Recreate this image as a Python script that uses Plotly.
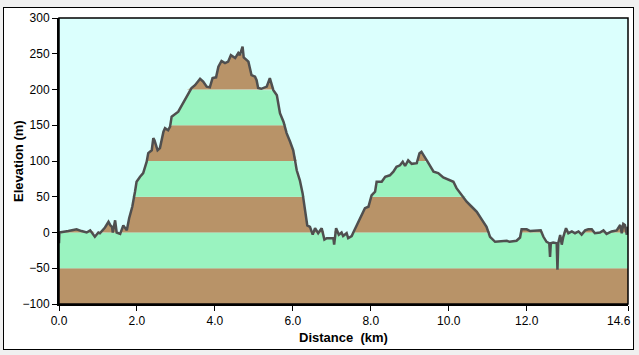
import plotly.graph_objects as go

# ---- data ----
dist_km = [
    0.00, 0.01, 0.24, 0.45, 0.58, 0.71, 0.80, 0.92, 1.01, 1.05,
    1.18, 1.27, 1.32, 1.36, 1.38, 1.44, 1.48, 1.57, 1.65, 1.74,
    1.80, 1.88, 1.95, 1.99, 2.08, 2.16, 2.25, 2.29, 2.38, 2.42,
    2.45, 2.53, 2.59, 2.63, 2.68, 2.72, 2.80, 2.85, 2.89, 3.06,
    3.15, 3.28, 3.40, 3.49, 3.62, 3.70, 3.79, 3.87, 3.94, 4.03,
    4.09, 4.17, 4.26, 4.34, 4.41, 4.52, 4.60, 4.64, 4.71, 4.74,
    4.82, 4.86, 4.94, 5.03, 5.07, 5.11, 5.19, 5.33, 5.41, 5.46,
    5.50, 5.59, 5.67, 5.76, 5.84, 5.93, 6.01, 6.10, 6.18, 6.25,
    6.31, 6.37, 6.44, 6.51, 6.57, 6.65, 6.74, 6.81, 6.87, 7.04,
    7.06, 7.11, 7.18, 7.25, 7.29, 7.38, 7.42, 7.51, 7.57, 7.64,
    7.72, 7.77, 7.85, 7.94, 7.98, 8.02, 8.11, 8.15, 8.28, 8.37,
    8.49, 8.58, 8.66, 8.75, 8.82, 8.88, 8.96, 9.05, 9.18, 9.25,
    9.30, 9.37, 9.48, 9.61, 9.73, 9.86, 9.99, 10.12, 10.20, 10.33,
    10.46, 10.59, 10.72, 10.85, 10.97, 11.06, 11.14, 11.19, 11.49, 11.56,
    11.74, 11.83, 11.87, 12.00, 12.09, 12.26, 12.36, 12.43, 12.51, 12.58,
    12.60, 12.62, 12.68, 12.77, 12.79, 12.81, 12.86, 12.90, 12.94, 13.01,
    13.07, 13.16, 13.24, 13.33, 13.41, 13.50, 13.58, 13.67, 13.75, 13.88,
    13.97, 14.05, 14.18, 14.31, 14.40, 14.44, 14.48, 14.52, 14.57, 14.60,
]
elev_m = [
    -15, 0, 2, 4.5, 2, 0, 3, -6, 0, -1,
    7, 15, 10, 8, 0, 17, 0, -2, 10, 3,
    20, 36, 57, 71, 78, 83, 99, 111, 115, 132,
    129, 115, 118, 129, 141, 146, 143, 148, 162, 169,
    178, 190, 202, 206, 215, 211, 204, 203, 216, 217,
    232, 240, 237, 239, 248, 244, 251, 248, 260, 245,
    241, 239, 220, 218, 213, 202, 201, 204, 216, 206,
    199, 192, 167, 155, 139, 127, 115, 87, 73, 55,
    31, 10, 8, -3, 6, -1, 6, -10, -8, -8,
    -17, 6, -3, 0, -5, -1, -8, -5, 2, 10,
    20, 25, 34, 36, 43, 52, 57, 71, 71, 78,
    80, 85, 92, 94, 99, 93, 101, 96, 97, 111,
    113, 106, 97, 85, 83, 77, 74, 71, 62, 52,
    43, 36, 29, 18, 8, -6, -10, -13, -11.5, -13,
    -11.5, -7, 4.5, 4.5, 2, 3, 3, -6, -13, -15,
    -34, -15, -14, -15, -52, -15, -3.5, -17, -6, 6,
    -1, 1.5, -1, 1.5, -3, 3, 4.5, 4.5, -1, 0,
    3, -2, 1.5, 3, 10.5, -1, 12, 10.5, -3, 8,
]

x_max = 14.6
x_tick_vals = [0, 2, 4, 6, 8, 10, 12, x_max]
x_tick_text = ["0.0", "2.0", "4.0", "6.0", "8.0", "10.0", "12.0", ""]
x_end_label = "14.6"
y_tick_vals = [-100, -50, 0, 50, 100, 150, 200, 250, 300]
band_edges = [-100, -50, 0, 50, 100, 150, 200, 250, 300]
x_title = "Distance&nbsp;&nbsp;(km)"
y_title = "Elevation (m)"

BROWN = "#B89368"
GREEN = "#9AF3C0"
BG = "#DBFFFD"
LINE = "#4F4F4F"

fig = go.Figure()

# banded fill under the profile
for i in range(len(band_edges) - 1):
    lo, hi = band_edges[i], band_edges[i + 1]
    color = BROWN if i % 2 == 0 else GREEN
    clipped = [min(max(v, lo), hi) for v in elev_m]
    fig.add_trace(go.Scatter(x=dist_km, y=[lo] * len(dist_km), mode="lines",
                             line=dict(width=0), hoverinfo="skip", showlegend=False))
    fig.add_trace(go.Scatter(x=dist_km, y=clipped, mode="lines", fill="tonexty",
                             fillcolor=color, line=dict(width=0),
                             hoverinfo="skip", showlegend=False))

# elevation line
fig.add_trace(go.Scatter(x=dist_km, y=elev_m, mode="lines",
                         line=dict(color=LINE, width=2.5), showlegend=False))

font_family = "Liberation Sans, Arial, sans-serif"

# figure div sits at page (4, 8); plot area at page x 59..628, y 18..304
W, H = 629, 341
L, T = 55, 10
PW, PH = 569, 286

fig.update_layout(
    width=W, height=H,
    margin=dict(l=L, r=W - L - PW, t=T, b=H - T - PH, autoexpand=False),
    paper_bgcolor="#FFFFFF",
    plot_bgcolor=BG,
    font=dict(family=font_family, size=12, color="#000000"),
    xaxis=dict(
        range=[0, x_max], tickvals=x_tick_vals, ticktext=x_tick_text,
        showgrid=False, zeroline=False, showline=True, linecolor="#000",
        linewidth=2, ticks="outside", ticklen=5, tickwidth=1, tickcolor="#000",
        automargin=False, ticklabeloverflow="allow",
    ),
    yaxis=dict(
        range=[-100, 300], tickvals=y_tick_vals,
        showgrid=False, zeroline=False, showline=True, linecolor="#000",
        linewidth=2, ticks="outside", ticklen=5, tickwidth=1, tickcolor="#000",
        automargin=False,
    ),
    shapes=[
        dict(type="rect", xref="paper", yref="paper", x0=0, x1=1, y0=0, y1=1,
             line=dict(color="#000", width=1.5), fillcolor="rgba(0,0,0,0)", layer="above"),
    ],
    annotations=[
        dict(text=x_end_label, xref="x", yref="paper",
             x=x_max, y=(304 - 321) / PH, xanchor="right", yanchor="middle",
             xshift=5, showarrow=False, font=dict(size=12)),
        dict(text="<b>" + x_title + "</b>", xref="paper", yref="paper",
             x=(343 - 59) / PW, y=(304 - 337) / PH, xanchor="center", yanchor="middle",
             showarrow=False, font=dict(size=13)),
        dict(text="<b>" + y_title + "</b>", xref="paper", yref="paper",
             x=(18 - 59) / PW, y=(304 - 161) / PH, xanchor="center", yanchor="middle",
             textangle=-90, showarrow=False, font=dict(size=13)),
    ],
)

post = (
    "document.body.style.margin='0';"
    "document.body.style.background='#F0F0F0';"
    "var d=document.querySelector('.plotly-graph-div');"
    "d.style.position='absolute';d.style.left='4px';d.style.top='8px';"
    "d.style.outline='1px solid #000';"
)

fig.write_html("out.html", config={"displayModeBar": False}, post_script=post)
